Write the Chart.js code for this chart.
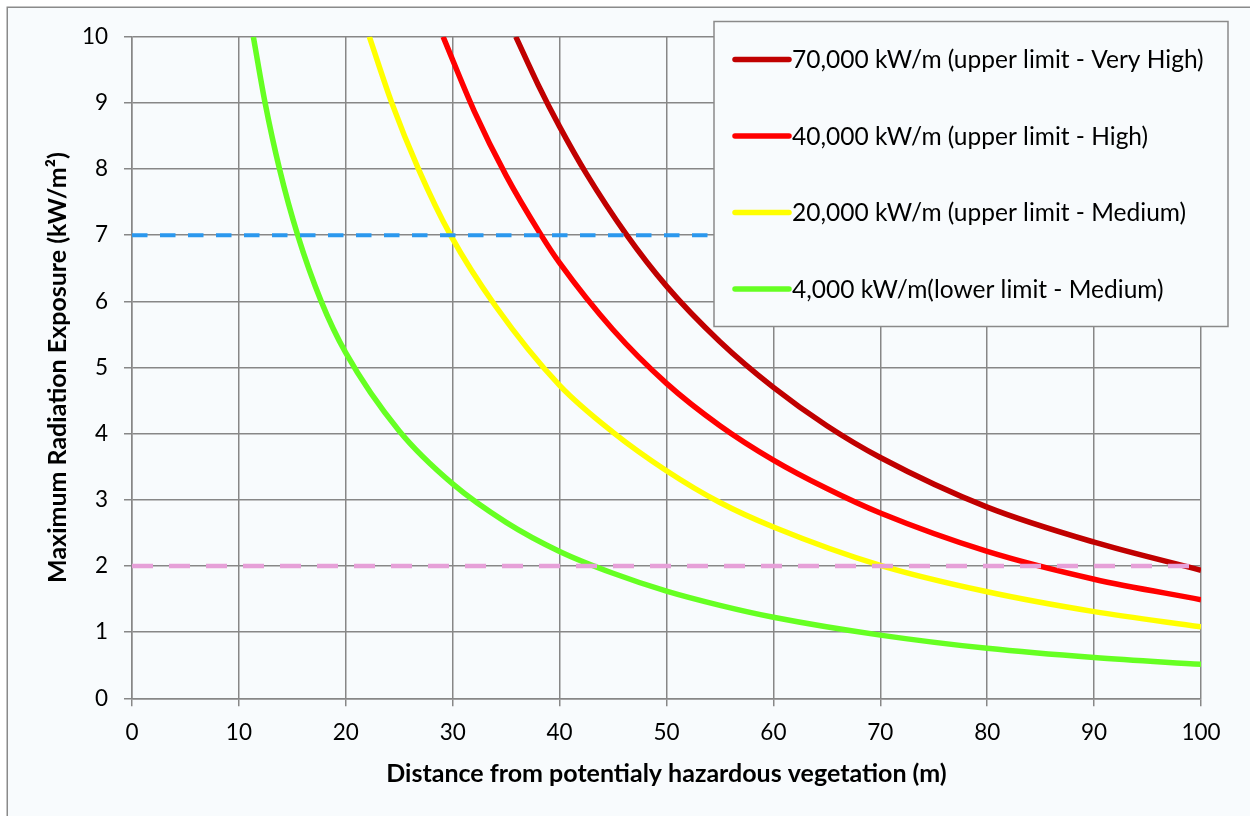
<!DOCTYPE html>
<html>
<head>
<meta charset="utf-8">
<script src="https://cdn.jsdelivr.net/npm/chart.js@4.4.1/dist/chart.umd.min.js"></script>
<style>
  html, body { margin: 0; padding: 0; background: #ffffff; }
  #wrap { width: 1250px; height: 816px; position: relative; }
</style>
</head>
<body>
<div id="wrap"><canvas id="c" width="1250" height="816"></canvas></div>
<script>
// ---- Data ----
const seriesLabels = [
  "70,000 kW/m (upper limit - Very High)",
  "40,000 kW/m (upper limit - High)",
  "20,000 kW/m (upper limit - Medium)",
  "4,000 kW/m(lower limit - Medium)"
];
const seriesColors = ["#C00000", "#FF0000", "#FFFF00", "#66FF22"];

// 70,000 kW/m
const veryHighX = [35.9, 38, 40, 42.5, 46.2, 50, 55, 60, 65, 70, 80, 90, 100];
const veryHighY = [10, 9.27, 8.64, 7.93, 7.02, 6.23, 5.39, 4.70, 4.12, 3.64, 2.89, 2.36, 1.935];
// 40,000 kW/m
const highX = [29.1, 32, 35, 38.2, 40, 45, 50, 55, 60, 65, 70, 80, 90, 100];
const highY = [10, 8.88, 7.90, 7.02, 6.58, 5.57, 4.76, 4.12, 3.60, 3.17, 2.80, 2.22, 1.80, 1.49];
// 20,000 kW/m
const mediumX = [22.2, 24.3, 26.8, 29.8, 34, 40, 45, 50, 55, 60, 70, 80, 90, 100];
const mediumY = [10, 9.0, 8.0, 7.0, 5.93, 4.73, 4.02, 3.44, 2.96, 2.59, 2.01, 1.61, 1.31, 1.08];
// 4,000 kW/m
const lowX = [11.35, 12.45, 13.8, 15.5, 17.7, 20, 25, 30, 35, 40, 45, 50, 55, 60, 70, 80, 90, 100];
const lowY = [10, 9, 8, 7, 6, 5.22, 4.04, 3.24, 2.66, 2.22, 1.89, 1.62, 1.405, 1.225, 0.955, 0.755, 0.615, 0.513];

// reference thresholds
const refX = [0, 100];
const blueRefY = [7, 7];
const pinkRefY = [2, 2];

const xTicks = [0, 10, 20, 30, 40, 50, 60, 70, 80, 90, 100];
const yTicks = [0, 1, 2, 3, 4, 5, 6, 7, 8, 9, 10];

// ---- helpers ----
function pts(xs, ys) { return xs.map((x, i) => ({ x: x, y: ys[i] })); }

const FONT = "Lato, 'Open Sans', sans-serif";
const BG = "#F8FBFD";
const GRID = "#878787";

const bgPlugin = {
  id: 'bg',
  beforeDraw(chart) {
    const ctx = chart.ctx;
    ctx.save();
    ctx.fillStyle = "#ffffff";
    ctx.fillRect(0, 0, chart.width, chart.height);
    ctx.fillStyle = BG;
    ctx.fillRect(7, 7, chart.width, chart.height);
    ctx.strokeStyle = "#8a8a8a";
    ctx.lineWidth = 1.5;
    ctx.beginPath();
    ctx.moveTo(7.25, chart.height + 5);
    ctx.lineTo(7.25, 7.25);
    ctx.lineTo(chart.width + 5, 7.25);
    ctx.stroke();
    ctx.restore();
  }
};

const legendPlugin = {
  id: 'boxLegend',
  afterDatasetsDraw(chart) {
    const ctx = chart.ctx;
    const bx = 714, by = 21.5, bw = 514, bh = 305;
    ctx.save();
    ctx.fillStyle = BG;
    ctx.fillRect(bx, by, bw, bh);
    ctx.strokeStyle = "#8a8a8a";
    ctx.lineWidth = 1.5;
    ctx.strokeRect(bx, by, bw, bh);
    const rowY = [59.5, 136, 212.5, 289];
    ctx.font = "24.5px " + FONT;
    ctx.textBaseline = "middle";
    ctx.textAlign = "left";
    seriesLabels.forEach((lab, i) => {
      ctx.strokeStyle = seriesColors[i];
      ctx.lineWidth = 5.5;
      ctx.lineCap = "round";
      ctx.beginPath();
      ctx.moveTo(735, rowY[i]);
      ctx.lineTo(789, rowY[i]);
      ctx.stroke();
      ctx.fillStyle = "#000000";
      ctx.fillText(lab, 792, rowY[i] + 1);
    });
    ctx.restore();
  }
};

const curveCommon = {
  showLine: true,
  pointRadius: 0,
  pointHoverRadius: 0,
  borderWidth: 5.5,
  cubicInterpolationMode: 'monotone',
  fill: false,
  order: 2
};

const chart = new Chart(document.getElementById('c'), {
  type: 'scatter',
  data: {
    datasets: [
      Object.assign({}, curveCommon, { label: seriesLabels[0], data: pts(veryHighX, veryHighY), borderColor: seriesColors[0] }),
      Object.assign({}, curveCommon, { label: seriesLabels[1], data: pts(highX, highY), borderColor: seriesColors[1] }),
      Object.assign({}, curveCommon, { label: seriesLabels[2], data: pts(mediumX, mediumY), borderColor: seriesColors[2] }),
      Object.assign({}, curveCommon, { label: seriesLabels[3], data: pts(lowX, lowY), borderColor: seriesColors[3] }),
      { label: 'ref7', data: pts(refX, blueRefY), showLine: true, pointRadius: 0, borderColor: '#2B98EE', borderWidth: 4, borderDash: [15.5, 12.5], borderCapStyle: 'butt', order: 0 },
      { label: 'ref2', data: pts(refX, pinkRefY), showLine: true, pointRadius: 0, borderColor: '#E6A0D8', borderWidth: 4.5, borderDash: [21, 16], borderCapStyle: 'butt', order: 0 }
    ]
  },
  options: {
    responsive: false,
    animation: false,
    devicePixelRatio: 1,
    layout: { padding: { top: 36.7, right: 49, left: 0, bottom: 0 } },
    plugins: { legend: { display: false }, tooltip: { enabled: false } },
    scales: {
      x: {
        type: 'linear', min: 0, max: 100,
        afterBuildTicks(scale) { scale.ticks = xTicks.map(v => ({ value: v })); },
        afterFit(scale) { scale.height = 816 - 698.3; },
        grid: { color: GRID, lineWidth: 1.5, tickLength: 8, drawTicks: true },
        border: { color: GRID, width: 1.5 },
        ticks: { color: '#000', font: { family: FONT, size: 22.5 }, padding: 13, maxRotation: 0 },
        title: { display: true, text: 'Distance from potentialy hazardous vegetation (m)', color: '#000',
                 font: { family: FONT, size: 25, weight: 'bold' }, padding: { top: 0, bottom: 27 } }
      },
      y: {
        type: 'linear', min: 0, max: 10,
        afterBuildTicks(scale) { scale.ticks = yTicks.map(v => ({ value: v })); },
        afterFit(scale) { scale.width = 132; },
        grid: { color: GRID, lineWidth: 1.5, tickLength: 8, drawTicks: true },
        border: { color: GRID, width: 1.5 },
        ticks: { color: '#000', font: { family: FONT, size: 22.5 }, padding: 16 },
        title: { display: true, text: 'Maximum Radiation Exposure (kW/m²)', color: '#000',
                 font: { family: FONT, size: 25, weight: 'bold' }, padding: { top: 43, bottom: 0 } }
      }
    }
  },
  plugins: [bgPlugin, legendPlugin]
});
</script>
</body>
</html>
